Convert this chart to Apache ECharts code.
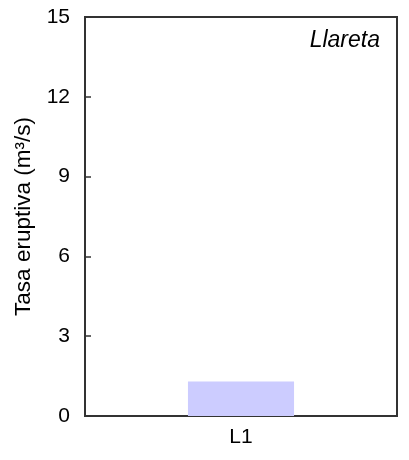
<!DOCTYPE html>
<html>
<head>
<meta charset="utf-8">
<style>
  html, body { margin: 0; padding: 0; background: #fff; }
  #chart { width: 409px; height: 460px; }
</style>
<script src="https://cdn.jsdelivr.net/npm/echarts@6/dist/echarts.min.js"></script>
</head>
<body>
<div id="chart"></div>
<script>
// Eruption rate per lava flow unit
const categories = ['L1'];
const eruptionRate = [1.3];
const yTicks = [0, 3, 6, 9, 12, 15];
const panelLabel = 'Llareta';
const yAxisTitle = 'Tasa eruptiva (m³/s)';

const font = 'Liberation Sans, Arial, sans-serif';
const chart = echarts.init(document.getElementById('chart'));
chart.setOption({
  animation: false,
  grid: {
    left: 85, right: 12, top: 17, bottom: 44,
    show: true, borderColor: '#333', borderWidth: 2, backgroundColor: 'transparent'
  },
  title: {
    text: panelLabel,
    right: 24, top: 24,
    textStyle: { fontFamily: font, fontStyle: 'italic', fontWeight: 'normal', fontSize: 23, color: '#000' }
  },
  xAxis: {
    type: 'category',
    data: categories,
    axisLine: { show: false },
    axisTick: { show: false },
    axisLabel: { fontFamily: font, fontSize: 21, color: '#000', margin: 11 }
  },
  yAxis: {
    type: 'value',
    min: yTicks[0], max: yTicks[yTicks.length - 1], interval: 3,
    name: yAxisTitle,
    nameLocation: 'middle',
    nameGap: 44,
    nameTextStyle: { fontFamily: font, fontSize: 22.5, color: '#000' },
    axisLine: { show: false },
    axisTick: { show: true, inside: true, length: 6, lineStyle: { color: '#333', width: 1.5 } },
    axisLabel: { fontFamily: font, fontSize: 21, color: '#000', margin: 15 },
    splitLine: { show: false }
  },
  series: [{
    type: 'bar',
    data: eruptionRate,
    barWidth: '34%',
    itemStyle: { color: '#ccccff' }
  }]
});
</script>
</body>
</html>
